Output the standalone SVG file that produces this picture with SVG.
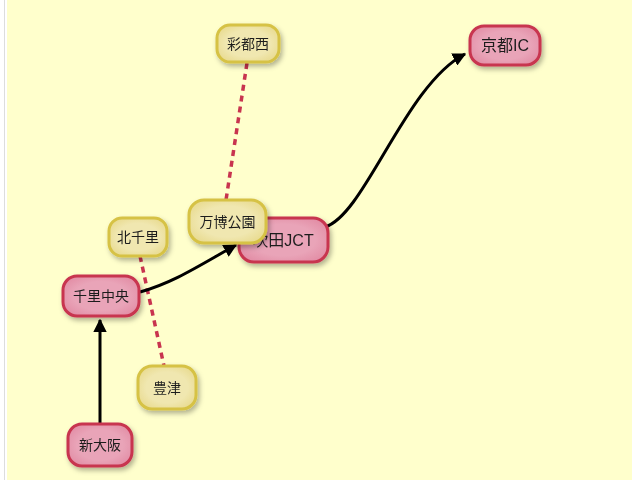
<svg xmlns="http://www.w3.org/2000/svg" width="640" height="480" viewBox="0 0 640 480">
<defs>
<style>
.pink rect{fill:url(#gp);stroke:#C8344F;stroke-width:3}
.yel rect{fill:url(#gy);stroke:#D6C244;stroke-width:3}
.node{filter:url(#sh)}
text{font-family:"Liberation Sans","Noto Sans CJK JP",sans-serif;font-size:14px;fill:#1e1e1e;text-anchor:middle;dominant-baseline:central}
.big{font-size:16px}
.edge{fill:none;stroke:#000;stroke-width:3;marker-end:url(#arr)}
.dash{fill:none;stroke:#C8344F;stroke-width:3.5;stroke-dasharray:6 5}
</style>
<radialGradient id="gp" cx="50%" cy="50%" r="60%">
<stop offset="0.6" stop-color="#E9A4B8"/>
<stop offset="1" stop-color="#E28DA5"/>
</radialGradient>
<radialGradient id="gy" cx="50%" cy="50%" r="60%">
<stop offset="0.6" stop-color="#F0E7B0"/>
<stop offset="1" stop-color="#E8DA8E"/>
</radialGradient>
<filter id="sh" x="-20%" y="-20%" width="150%" height="160%">
<feDropShadow dx="2" dy="3" stdDeviation="2.5" flood-color="#000" flood-opacity="0.3"/>
</filter>
<marker id="arr" viewBox="0 0 10 10" refX="9" refY="5" markerWidth="4.5" markerHeight="4.5" orient="auto" markerUnits="strokeWidth">
<path d="M0,0 L10,5 L0,10 z" fill="#000"/>
</marker>
</defs>
<rect x="0" y="0" width="640" height="480" fill="#fff"/>
<line x1="4.5" y1="0" x2="4.5" y2="480" stroke="#ddd" stroke-width="1"/>
<rect x="7" y="0" width="625" height="480" fill="#FFFFCC"/>
<g id="connectors">
<path class="dash" d="M247,63 L226,200"/>
<path class="dash" d="M140,256 L164,366"/>
<path class="edge" d="M100,423 L100,320"/>
<path class="edge" d="M140,292 C175,282 200,265 236,245"/>
<path class="edge" d="M325,227 C365,215 405,85 465,54"/>
</g>
<g id="n-saitonishi" class="node yel"><rect x="217" y="25" width="62" height="37" rx="13"/><text x="248" y="43.5">彩都西</text></g>
<g id="n-kyotoic" class="node pink"><rect x="470" y="26" width="70" height="39" rx="14"/><text x="505" y="45.5" class="big">京都IC</text></g>
<g id="n-suita" class="node pink"><rect x="239" y="218" width="89" height="44" rx="15"/><text x="283" y="240" class="big">吹田JCT</text></g>
<g id="n-banpaku" class="node yel"><rect x="189" y="200" width="77" height="43" rx="15"/><text x="227.5" y="221.5">万博公園</text></g>
<g id="n-kitasenri" class="node yel"><rect x="109" y="218" width="58" height="38" rx="13"/><text x="138" y="237">北千里</text></g>
<g id="n-senrichuo" class="node pink"><rect x="63" y="276" width="76" height="40" rx="14"/><text x="101" y="296">千里中央</text></g>
<g id="n-toyotsu" class="node yel"><rect x="138" y="366" width="58" height="43" rx="14"/><text x="167" y="387.5">豊津</text></g>
<g id="n-shinosaka" class="node pink"><rect x="68" y="424" width="64" height="42" rx="14"/><text x="100" y="445">新大阪</text></g>
</svg>
